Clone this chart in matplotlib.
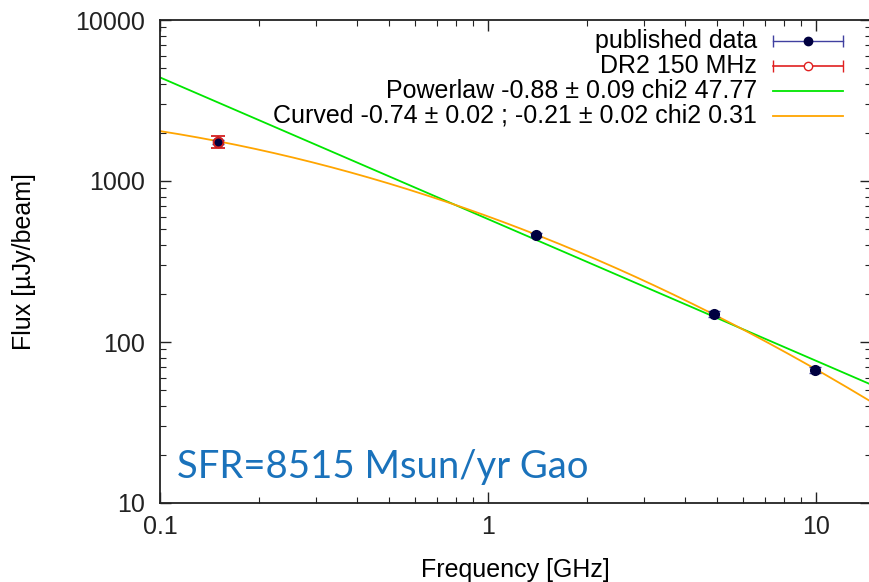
import numpy as np
import matplotlib.pyplot as plt

# data (GHz, uJy/beam)
pub_freq = [0.15, 1.4, 4.9, 9.9]
pub_flux = [1750, 462, 149, 67]
pub_err = [60, 15, 6, 3]
dr2_freq = [0.15]
dr2_flux = [1750]
dr2_err = [140]

# fit parameters
pl_norm, pl_alpha = 580.0, -0.88
cv_norm, cv_alpha, cv_beta = 10**2.78, -0.74, -0.21

legend_labels = ["published data", "DR2 150 MHz",
                 "Powerlaw -0.88 ± 0.09 chi2 47.77",
                 "Curved -0.74 ± 0.02 ; -0.21 ± 0.02 chi2 0.31"]

plt.rcParams['font.family'] = ['Liberation Sans', 'DejaVu Sans']

fig = plt.figure(figsize=(8.69, 5.82), dpi=100)
ax = fig.add_axes([160/869, 79/582, 711/869, 483/582])

xmax = 10**(-1 + 711/328)
nu = np.logspace(-1, np.log10(xmax), 300)
lnu = np.log10(nu)
ax.plot(nu, pl_norm * nu**pl_alpha, color='#00e600', lw=1.3)
ax.plot(nu, cv_norm * 10**(cv_alpha*lnu + cv_beta*lnu**2), color='#ffa500', lw=1.3)

ax.errorbar(pub_freq, pub_flux, yerr=pub_err, fmt='o', ms=7, color='#000040',
            ecolor='#4040a0', elinewidth=1, capsize=4)
ax.errorbar(dr2_freq, dr2_flux, yerr=dr2_err, fmt='o', ms=7, mfc='none', mec='#d42020',
            mew=1.3, ecolor='#d42020', elinewidth=1.5, capsize=5, capthick=1.5)

ax.set_xscale('log')
ax.set_yscale('log')
ax.set_xlim(0.1, xmax)
ax.set_ylim(10, 10000)
ax.set_xticks([0.1, 1, 10])
ax.set_xticklabels(['0.1', '1', '10'])
ax.set_yticks([10, 100, 1000, 10000])
ax.set_yticklabels(['10', '100', '1000', '10000'])
ax.tick_params(which='both', direction='in', top=True, right=True, labelsize=18, colors='#222222')
ax.tick_params(which='major', length=8, width=1)
ax.tick_params(which='minor', length=4.5, width=0.8)
ax.tick_params(axis='x', pad=9)
ax.tick_params(axis='y', pad=11)
for s in ax.spines.values():
    s.set_linewidth(1.3)
    s.set_color('#222222')
ax.spines['right'].set_visible(False)

ax.set_xlabel('Frequency [GHz]', fontsize=18, labelpad=13)
ax.set_ylabel('Flux [µJy/beam]', fontsize=18, labelpad=28)

# gnuplot-style key, right aligned text
tr = ax.transAxes
ys = [1 - 21/483, 1 - 46/483, 1 - 71/483, 1 - 96/483]
xt, x0, x1 = (757-160)/711, (773-160)/711, (843-160)/711
for y, lab in zip(ys, legend_labels):
    ax.text(xt, y, lab, transform=tr, ha='right', va='center', fontsize=18)
ax.plot([x0, x1], [ys[0]]*2, transform=tr, color='#4040a0', lw=1, marker='|', ms=8)
ax.plot([(x0+x1)/2], [ys[0]], 'o', transform=tr, color='#000040', ms=6)
ax.plot([x0, x1], [ys[1]]*2, transform=tr, color='#e02020', lw=1.2, marker='|', ms=8)
ax.plot([(x0+x1)/2], [ys[1]], 'o', transform=tr, mfc='white', mec='#e02020', ms=6)
ax.plot([x0, x1], [ys[2]]*2, transform=tr, color='#00e600', lw=1.3)
ax.plot([x0, x1], [ys[3]]*2, transform=tr, color='#ffa500', lw=1.3)

ax.text((177-160)/711, (503-467)/483, 'SFR=8515 Msun/yr Gao', transform=tr,
        fontsize=27.5, color='#1a72bb', family=['Lato', 'DejaVu Sans'], va='center')

fig.savefig('out.png', dpi=100)
